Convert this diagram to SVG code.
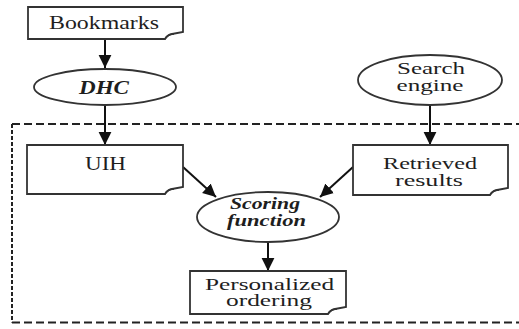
<svg xmlns="http://www.w3.org/2000/svg" width="519" height="329" viewBox="0 0 519 329">
<style>
.box{fill:#fff;stroke:#333;stroke-width:1.8}
.ell{fill:#fff;stroke:#333;stroke-width:1.8}
.curl{fill:none;stroke:#333;stroke-width:1.3}
.t{font-family:"Liberation Serif","Times New Roman",serif;font-size:19px;fill:#1e1e1e;text-anchor:middle}
.t2{font-family:"Liberation Serif","Times New Roman",serif;font-size:16px;fill:#1e1e1e;text-anchor:middle}
.bi{font-style:italic;font-weight:bold}
.edge{stroke:#111;stroke-width:2;fill:none}
.dash{stroke:#222;stroke-width:2;fill:none}
</style>
<defs>
<marker id="ah" markerWidth="7" markerHeight="7" refX="6.5" refY="3.5" orient="auto" markerUnits="strokeWidth">
<path d="M0,0.3 L6.5,3.5 L0,6.7 Z" fill="#111"/>
</marker>
</defs>

<g id="boundary">
<line class="dash" x1="12" y1="124" x2="519" y2="124" stroke-dasharray="8 4"/>
<line class="dash" x1="12" y1="322.5" x2="519" y2="322.5" stroke-dasharray="8 4"/>
<line class="dash" x1="12" y1="124" x2="12" y2="322.5" stroke-dasharray="4 2"/>
</g>

<g id="connectors">
<line class="edge" x1="105" y1="39" x2="105" y2="68" marker-end="url(#ah)"/>
<line class="edge" x1="105" y1="105" x2="105" y2="145" marker-end="url(#ah)"/>
<line class="edge" x1="430" y1="105" x2="430" y2="145" marker-end="url(#ah)"/>
<line class="edge" x1="183" y1="167" x2="216" y2="197" marker-end="url(#ah)"/>
<line class="edge" x1="353" y1="167" x2="320" y2="197" marker-end="url(#ah)"/>
<line class="edge" x1="268" y1="242" x2="268" y2="271" marker-end="url(#ah)"/>
</g>

<g id="bookmarks">
<path class="box" d="M28,7 H183 V32 L172,34 Q167,35 165,39 H28 Z"/>
<path class="curl" d="M165,39 Q168,34 174,34"/>
<text class="t" x="104" y="29" textLength="110" lengthAdjust="spacingAndGlyphs">Bookmarks</text>
</g>

<g id="dhc">
<ellipse class="ell" cx="105" cy="87" rx="71" ry="18"/>
<text class="t bi" x="104" y="94" textLength="50" lengthAdjust="spacingAndGlyphs">DHC</text>
</g>

<g id="search-engine">
<ellipse class="ell" cx="430" cy="80" rx="72" ry="25"/>
<text class="t2" x="431" y="74" textLength="68" lengthAdjust="spacingAndGlyphs">Search</text>
<text class="t2" x="430" y="91" textLength="67" lengthAdjust="spacingAndGlyphs">engine</text>
</g>

<g id="uih">
<path class="box" d="M27,145 H183 V187 L172,189 Q167,190 165,194 H27 Z"/>
<path class="curl" d="M165,194 Q168,189 174,189"/>
<text class="t" x="105.5" y="170" textLength="41" lengthAdjust="spacingAndGlyphs">UIH</text>
</g>

<g id="retrieved-results">
<path class="box" d="M353,145 H508 V188 L497,190 Q492,191 490,195 H353 Z"/>
<path class="curl" d="M490,195 Q493,190 499,190"/>
<text class="t2" x="430" y="169" textLength="94" lengthAdjust="spacingAndGlyphs">Retrieved</text>
<text class="t2" x="429" y="186" textLength="68" lengthAdjust="spacingAndGlyphs">results</text>
</g>

<g id="scoring-function">
<ellipse class="ell" cx="268" cy="217" rx="71" ry="25"/>
<text class="t2 bi" x="265" y="209" textLength="70" lengthAdjust="spacingAndGlyphs">Scoring</text>
<text class="t2 bi" x="266.5" y="226" textLength="79" lengthAdjust="spacingAndGlyphs">function</text>
</g>

<g id="personalized-ordering">
<path class="box" d="M190,271 H346 V307 L335,309 Q330,310 328,314 H190 Z"/>
<path class="curl" d="M328,314 Q331,309 337,309"/>
<text class="t2" x="269.5" y="290" textLength="129" lengthAdjust="spacingAndGlyphs">Personalized</text>
<text class="t2" x="269" y="306" textLength="86" lengthAdjust="spacingAndGlyphs">ordering</text>
</g>
</svg>
